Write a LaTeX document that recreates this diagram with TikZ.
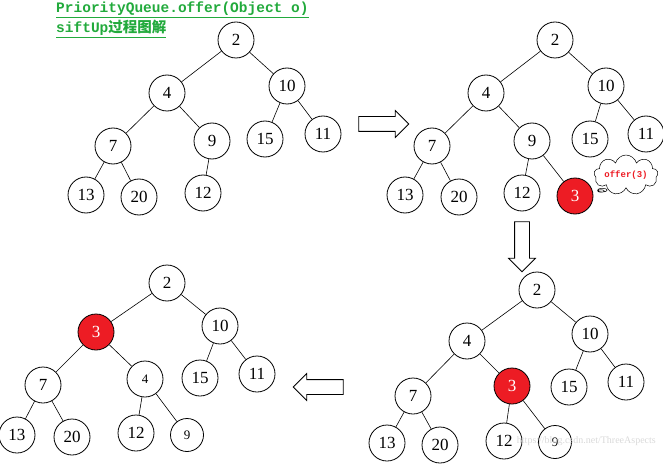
\documentclass[tikz,border=0pt]{standalone}
\usepackage{fontspec}
\setmainfont{Liberation Serif}
\newfontfamily\cjk{Noto Sans CJK SC}
\newfontfamily\monof{Liberation Mono}
\usetikzlibrary{shapes.arrows,shapes.callouts}
\definecolor{tgreen}{RGB}{34,170,60}
\definecolor{nred}{RGB}{237,28,36}
\tikzset{
  nd/.style={circle,draw,line width=0.8pt,minimum size=36pt,inner sep=0pt,font=\fontsize{17}{17}\selectfont},
  rd/.style={nd,fill=nred,text=white},
  ed/.style={line width=0.6pt},
  barrow/.style={single arrow,draw,line width=0.8pt,minimum height=50pt,minimum width=26pt,single arrow head extend=6pt,inner xsep=0pt,inner ysep=7pt,fill=white}
}
\begin{document}
\begin{tikzpicture}[x=1pt,y=-1pt]
\useasboundingbox (0,0) rectangle (663,465);
\node[anchor=west,text=tgreen,font=\monof\bfseries\fontsize{14.5}{14.5}\selectfont,inner sep=0pt] (t1) at (56,10) {\underline{PriorityQueue.offer(Object o)}};
\node[anchor=west,text=tgreen,font=\bfseries\fontsize{14.5}{14.5}\selectfont,inner sep=0pt] (t2) at (56,29) {\underline{{\monof siftUp}{\cjk 过程图解}}};
% tree 1
\node[nd] (a2) at (236,40) {2};
\node[nd] (a4) at (167,93) {4};
\node[nd] (a10) at (287,86) {10};
\node[nd] (a7) at (113,146) {7};
\node[nd] (a9) at (212,141) {9};
\node[nd] (a15) at (265,139) {15};
\node[nd] (a11) at (323,134) {11};
\node[nd] (a13) at (86,195) {13};
\node[nd] (a20) at (139,197) {20};
\node[nd] (a12) at (203,193) {12};
\draw[ed] (a2)--(a4) (a2)--(a10) (a4)--(a7) (a4)--(a9) (a10)--(a15) (a10)--(a11) (a7)--(a13) (a7)--(a20) (a9)--(a12);
% tree 2
\node[nd] (b2) at (555,40) {2};
\node[nd] (b4) at (486,93) {4};
\node[nd] (b10) at (606,86) {10};
\node[nd] (b7) at (432,146) {7};
\node[nd] (b9) at (532,141) {9};
\node[nd] (b15) at (590,139) {15};
\node[nd] (b11) at (646,134) {11};
\node[nd] (b13) at (405,195) {13};
\node[nd] (b20) at (459,197) {20};
\node[nd] (b12) at (522,193) {12};
\node[rd] (b3) at (575,196) {3};
\draw[ed] (b2)--(b4) (b2)--(b10) (b4)--(b7) (b4)--(b9) (b10)--(b15) (b10)--(b11) (b7)--(b13) (b7)--(b20) (b9)--(b12) (b9)--(b3);
\node[cloud callout,draw,line width=0.5pt,cloud puffs=9,aspect=2.4,inner sep=0pt,minimum width=50pt,minimum height=22pt,callout absolute pointer={(601,191)},text=nred,font=\monof\bfseries\fontsize{9}{9}\selectfont] (cl) at (626,175) {offer(3)};
% tree 3
\node[nd] (c2) at (537,290) {2};
\node[nd] (c4) at (467,341) {4};
\node[nd] (c10) at (590,334) {10};
\node[nd] (c7) at (413,396) {7};
\node[rd] (c3) at (512,386) {3};
\node[nd] (c15) at (569,387) {15};
\node[nd] (c11) at (626,382) {11};
\node[nd] (c13) at (387,443) {13};
\node[nd] (c20) at (440,445) {20};
\node[nd] (c12) at (504,441) {12};
\node[nd,minimum size=33pt,font=\fontsize{13}{13}\selectfont] (c9) at (555,442) {9};
\draw[ed] (c2)--(c4) (c2)--(c10) (c4)--(c7) (c4)--(c3) (c10)--(c15) (c10)--(c11) (c7)--(c13) (c7)--(c20) (c3)--(c12) (c3)--(c9);
% tree 4
\node[nd] (d2) at (167,283) {2};
\node[rd] (d3) at (96,332) {3};
\node[nd] (d10) at (220,326) {10};
\node[nd] (d7) at (43,385) {7};
\node[nd,font=\fontsize{13}{13}\selectfont] (d4) at (145,379) {4};
\node[nd] (d15) at (200,378) {15};
\node[nd] (d11) at (257,374) {11};
\node[nd] (d13) at (17,435) {13};
\node[nd] (d20) at (72,437) {20};
\node[nd] (d12) at (136,433) {12};
\node[nd,minimum size=33pt,font=\fontsize{13}{13}\selectfont] (d9) at (187,435) {9};
\draw[ed] (d2)--(d3) (d2)--(d10) (d3)--(d7) (d3)--(d4) (d10)--(d15) (d10)--(d11) (d7)--(d13) (d7)--(d20) (d4)--(d12) (d4)--(d9);
% block arrows
\node[barrow] (r1) at (380,124) {};
\node[barrow,shape border rotate=270,inner xsep=7pt,inner ysep=0pt] (r2) at (522,243) {};
\node[barrow,shape border rotate=180] (r3) at (322,387) {};
\node[text=gray!30,font=\fontsize{10}{10}\selectfont,anchor=east,inner sep=0pt] (wm) at (656,441) {https://blog.csdn.net/ThreeAspects};
\end{tikzpicture}
\end{document}
